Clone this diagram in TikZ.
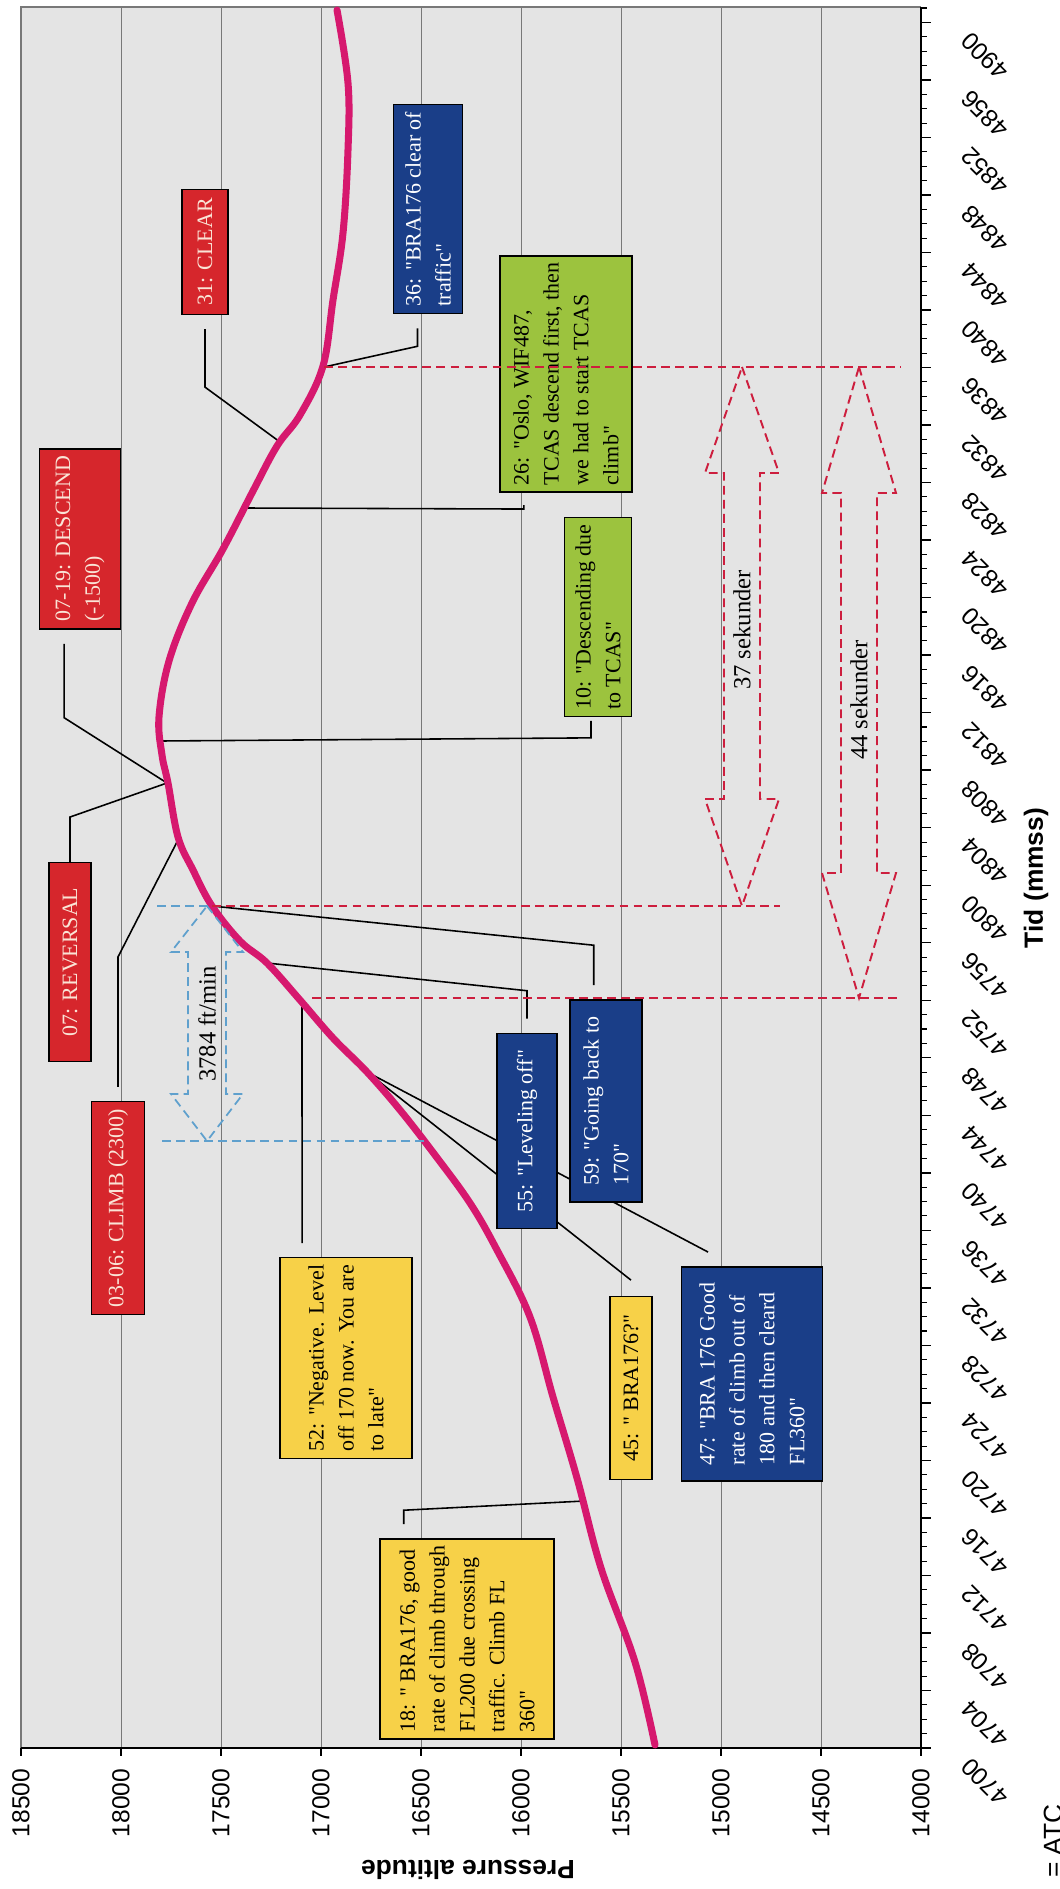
\documentclass[tikz,border=0pt]{standalone}
\usepackage{fontspec}
\setmainfont{Liberation Serif}[Ligatures=TeXOff]
\newfontfamily\axisfont{Liberation Sans}
\pgfdeclarelayer{grid}
\pgfdeclarelayer{leads}
\pgfsetlayers{grid,leads,main}
\definecolor{plotbg}{RGB}{228,228,228}
\definecolor{gridgray}{RGB}{120,120,120}
\definecolor{altcurve}{RGB}{214,24,110}
\definecolor{tcasred}{RGB}{214,38,44}
\definecolor{tcastext}{RGB}{250,228,214}
\definecolor{atcyellow}{RGB}{247,209,72}
\definecolor{crewblue}{RGB}{26,62,136}
\definecolor{crewgreen}{RGB}{156,195,62}
\definecolor{reddash}{RGB}{205,30,62}
\definecolor{bluedash}{RGB}{95,160,205}
\tikzset{
  callout/.style={draw=black,line width=0.8pt,rotate=90,align=left,inner sep=4pt,
    font=\fontsize{12.5}{17}\selectfont},
  redbox/.style={callout,fill=tcasred,text=tcastext},
  bluebox/.style={callout,fill=crewblue,text=white},
  greenbox/.style={callout,fill=crewgreen,text=black},
  yellowbox/.style={callout,fill=atcyellow,text=black},
  lead/.style={black,line width=0.9pt},
  timelab/.style={rotate=135,anchor=east,inner sep=1pt,font=\axisfont\fontsize{14}{16}\selectfont},
  altlab/.style={rotate=90,inner sep=1pt,font=\axisfont\fontsize{14}{16}\selectfont},
  axistitle/.style={font=\axisfont\bfseries\fontsize{15}{18}\selectfont},
  hollowred/.style={reddash,line width=1.1pt,dash pattern=on 5pt off 3pt},
  hollowblue/.style={bluedash,line width=1pt,dash pattern=on 5pt off 3pt},
  spanlab/.style={rotate=90,font=\fontsize{14}{16}\selectfont}
}
\begin{document}
\begin{tikzpicture}[x=0.02cm,y=-0.02cm]
\useasboundingbox (0,0) rectangle (1059,1889);

\node[redbox,minimum width=102pt,minimum height=46pt] (b0719) at (80,539) {07-19: DESCEND\\(-1500)};
\node[redbox,minimum width=71pt,minimum height=26pt] (b31) at (205,252) {31: CLEAR};
\node[redbox,minimum width=113pt,minimum height=24pt] (b07) at (70,962) {07: REVERSAL};
\node[redbox,minimum width=121pt,minimum height=30pt] (b0306) at (118,1208) {03-06: CLIMB (2300)};
\node[bluebox,minimum width=119pt,minimum height=39pt] (b36) at (428,209) {36: "BRA176 clear of\\traffic"};
\node[greenbox,minimum width=131pt,minimum height=75pt] (b26) at (566,374) {26: "Oslo, WIF487,\\TCAS descend first, then\\we had to start TCAS\\climb"};
\node[greenbox,minimum width=110pt,minimum height=38pt] (b10) at (598,617) {10: "Descending due\\to TCAS"};
\node[bluebox,minimum width=111pt,minimum height=34pt] (b55) at (527,1131) {55: "Leveling off"};
\node[bluebox,minimum width=115pt,minimum height=41pt] (b59) at (606,1101) {59: "Going back to\\170"};
\node[yellowbox,minimum width=111pt,minimum height=75pt] (b52) at (346,1358) {52: "Negative. Level\\off 170 now. You are\\to late"};
\node[yellowbox,minimum width=104pt,minimum height=24pt] (b45) at (631,1388) {45: " BRA176?"};
\node[bluebox,minimum width=122pt,minimum height=80pt] (b47) at (752,1374) {47: "BRA 176 Good\\rate of climb out of\\180 and then cleard\\FL360"};
\node[yellowbox,minimum width=111pt,minimum height=99pt] (b18) at (467,1639) {18: " BRA176, good\\rate of climb through\\FL200 due crossing\\traffic. Climb FL\\360"};

\begin{pgfonlayer}{grid}
\fill[white] (0,0) rectangle (1059,1889);
\fill[plotbg] (21,7) rectangle (921,1748);
\foreach \gx in {121,221,...,821} \draw[gridgray,line width=0.5pt] (\gx,7) -- (\gx,1748);
\draw[gridgray,line width=0.6pt] (21,1748) -- (21,7) -- (921,7);
\draw[line width=1.2pt] (21,1748) -- (921,1748) -- (921,7);
\foreach \gx in {21,121,...,921} \draw[line width=0.8pt] (\gx,1748) -- (\gx,1756);
\foreach \s in {0,...,121} \draw[line width=0.6pt] (921,{1748-14.38*\s}) -- (927,{1748-14.38*\s});
\foreach \s in {0,4,...,120} \draw[line width=0.8pt] (921,{1748-14.38*\s}) -- (931,{1748-14.38*\s});
\end{pgfonlayer}

\foreach \lab [count=\k from 0] in {4700,4704,4708,4712,4716,4720,4724,4728,4732,4736,4740,4744,4748,4752,4756,4800,4804,4808,4812,4816,4820,4824,4828,4832,4836,4840,4844,4848,4852,4856,4900}
  \node[timelab] (t\k) at (964,{1761-57.52*\k}) {\lab};
\foreach \alt [count=\i from 0] in {18500,18000,17500,17000,16500,16000,15500,15000,14500,14000}
  \node[altlab] (a\i) at ({21+100*\i},1803) {\alt};
\node[axistitle,rotate=90] (tid) at (1036,878) {Tid (mmss)};
\node[axistitle,rotate=180] (palt) at (468,1870) {Pressure altitude};
\node[rotate=90,anchor=base west,font=\axisfont\fontsize{15}{18}\selectfont] (atc) at (1062,1884) {= ATC};

\begin{pgfonlayer}{leads}
\coordinate (k36) at (324,367);
\coordinate (k31) at (280,442);
\coordinate (k26) at (245,508);
\coordinate (k10) at (160,741);
\coordinate (ktop) at (167,783);
\coordinate (kclimb) at (178,840);
\coordinate (k59) at (212,906);
\coordinate (k55) at (267,963);
\coordinate (k52) at (302,1002);
\coordinate (k45) at (367,1072);
\coordinate (k18) at (584,1501);
\draw[lead] ([yshift=-8pt]b31.west) -- ++(0,58) -- (k31);
\draw[lead] ([xshift=-6pt,yshift=-8pt]b36.west) -- ++(0,18) -- (k36);
\draw[lead] ([xshift=-24pt,yshift=-7pt]b26.west) -- ++(0,4) -- (k26);
\draw[lead] ([xshift=-4pt,yshift=-2pt]b10.west) -- ++(0,17) -- (k10);
\draw[lead] ([xshift=-9pt,yshift=-8pt]b0719.west) -- ++(0,74) -- (ktop);
\draw[lead] (b07.east) -- ++(0,-45) -- (ktop);
\draw[lead] ([yshift=8pt]b0306.east) -- ++(0,-130) -- (kclimb);
\draw[lead] ([xshift=-25pt,yshift=8pt]b52.east) -- (k52);
\draw[lead] ([yshift=8pt]b55.east) -- ++(0,-28) -- (k55);
\draw[lead] ([xshift=-7pt,yshift=8pt]b59.east) -- ++(0,-40) -- (k59);
\draw[lead] ([yshift=9pt]b45.east) -- (k45);
\draw[lead] ([xshift=-25pt,yshift=8pt]b47.east) -- (k45);
\draw[lead] ([xshift=-36pt,yshift=8pt]b18.east) -- ++(0,-14) -- (k18);
\draw[altcurve,line width=4pt,line cap=round] plot[smooth,tension=0.6] coordinates {(337,10) (348,83) (348,150) (343,233) (333,300) (323,366) (300,415) (277,446) (253,491) (223,549) (192,603) (169,661) (159,717) (162,755) (168,783) (178,837) (193,870) (212,906) (240,941) (267,963) (300,1000) (333,1038) (367,1072) (400,1110) (435,1155) (470,1203) (497,1250) (530,1317) (553,1397) (577,1478) (601,1568) (635,1662) (655,1745)};
\end{pgfonlayer}

\draw[hollowred] (k36) -- (901,367);
\draw[hollowred] (k59) -- (780,906);
\draw[hollowred] (312,998) -- (901,998);
\draw[hollowblue] (157,906) -- (k59);
\draw[hollowblue] (162,1141) -- (428,1141);
\draw[hollowred] (742,367) -- (779,473) -- (760,473) -- (760,799) -- (779,799) -- (742,906) -- (705,799) -- (724,799) -- (724,473) -- (705,473) -- cycle;
\draw[hollowred] (859,367) -- (896,493) -- (877,493) -- (877,873) -- (896,873) -- (859,998) -- (822,873) -- (841,873) -- (841,493) -- (822,493) -- cycle;
\draw[hollowblue] (207,906) -- (243,952) -- (226,952) -- (226,1094) -- (243,1094) -- (207,1141) -- (171,1094) -- (188,1094) -- (188,952) -- (171,952) -- cycle;
\node[spanlab] (s37) at (742,630) {37 sekunder};
\node[spanlab] (s44) at (859,700) {44 sekunder};
\node[spanlab] (rate) at (207,1024) {3784 ft/min};
\end{tikzpicture}
\end{document}
